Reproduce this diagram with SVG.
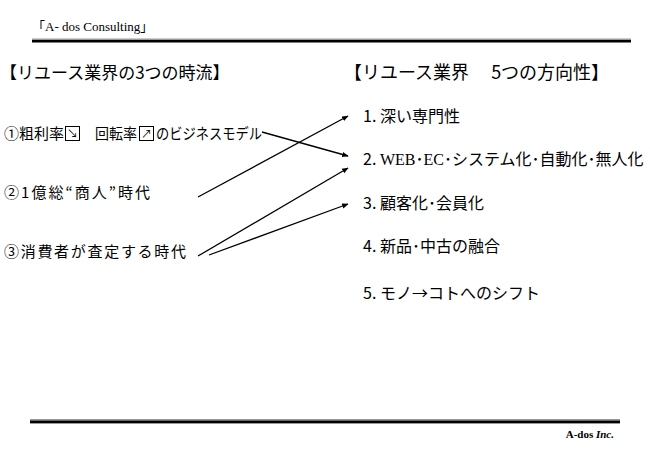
<svg xmlns="http://www.w3.org/2000/svg" width="650" height="450" viewBox="0 0 650 450">
<style>
.jp{font-family:"Noto Sans CJK JP","Liberation Sans",sans-serif;fill:#000}
.h{font-size:17px}
.t{font-size:15px}
.r{font-size:16px}
.ser{font-family:"Liberation Serif",serif}
.conn line{stroke:#000;stroke-width:1.3;fill:none;marker-end:url(#ah)}
.box{fill:none;stroke:#000;stroke-width:1}
</style>
<defs>
<marker id="ah" viewBox="0 0 10 10" refX="9" refY="5" markerWidth="5" markerHeight="5" orient="auto" markerUnits="strokeWidth">
<path d="M0,1 L10,5 L0,9 z" fill="#000"/>
</marker>
</defs>
<rect width="650" height="450" fill="#fff"/>
<g id="header">
<text x="32" y="31" font-family="Liberation Serif,'Noto Sans CJK JP',serif" font-size="13">「A- dos Consulting」</text>
<rect x="32" y="38.5" width="599" height="1.5" fill="#999"/>
<rect x="32" y="40" width="599" height="2.5" fill="#000"/>
</g>
<g id="title-left"><text class="jp h" x="0" y="79">【リユース業界の3つの時流】</text></g>
<g id="title-right"><text class="jp" font-size="18" x="344" y="79">【リユース業界　 5つの方向性】</text></g>
<g id="trend1">
<text class="jp t" x="4" y="139">①粗利率</text>
<rect class="box" x="65.5" y="126.5" width="14" height="14"/>
<text class="jp" x="72.5" y="138" font-size="11" text-anchor="middle">↘</text>
<text class="jp t" x="95" y="139" textLength="42" lengthAdjust="spacingAndGlyphs">回転率</text>
<rect class="box" x="139.5" y="126.5" width="14" height="14"/>
<text class="jp" x="146.5" y="138" font-size="11" text-anchor="middle">↗</text>
<text class="jp t" x="156" y="139" textLength="106" lengthAdjust="spacingAndGlyphs">のビジネスモデル</text>
</g>
<g id="trend2"><text class="jp t" x="4" y="198" textLength="146" lengthAdjust="spacing">②1億総“商人”時代</text></g>
<g id="trend3"><text class="jp t" x="4" y="257" textLength="182" lengthAdjust="spacing">③消費者が査定する時代</text></g>
<g id="dir1"><text class="jp r" x="363" y="122">1. 深い専門性</text></g>
<g id="dir2"><text class="jp r" x="363" y="165">2. <tspan class="ser">WEB</tspan>･<tspan class="ser">EC</tspan>･システム化･自動化･無人化</text></g>
<g id="dir3"><text class="jp r" x="363" y="209">3. 顧客化･会員化</text></g>
<g id="dir4"><text class="jp r" x="363" y="252">4. 新品･中古の融合</text></g>
<g id="dir5"><text class="jp r" x="363" y="299">5. モノ→コトへのシフト</text></g>
<g class="conn" id="connectors">
<line x1="262" y1="132" x2="348" y2="156"/>
<line x1="198" y1="197" x2="348" y2="116"/>
<line x1="198" y1="256" x2="348" y2="168"/>
<line x1="209" y1="255" x2="348" y2="204"/>
</g>
<g id="footer">
<rect x="30" y="419" width="590" height="1.5" fill="#999"/>
<rect x="30" y="420.5" width="590" height="2.5" fill="#000"/>
<rect x="30" y="423" width="590" height="1" fill="#999"/>
<text x="614" y="438" font-family="Liberation Serif,serif" font-size="11" font-weight="bold" text-anchor="end">A-dos <tspan font-style="italic">Inc.</tspan></text>
</g>
</svg>
